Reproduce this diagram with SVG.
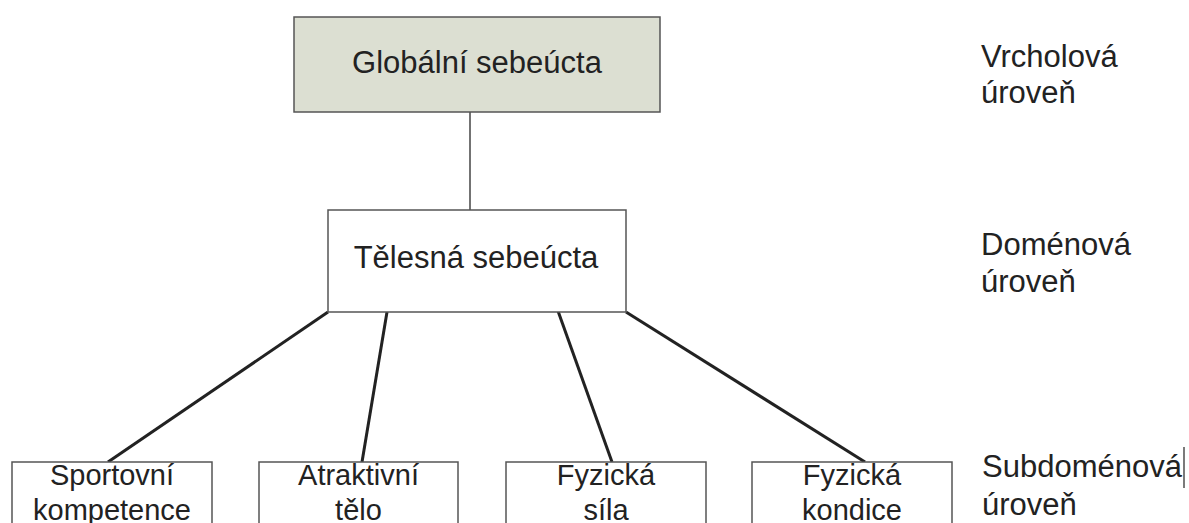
<svg xmlns="http://www.w3.org/2000/svg" width="1189" height="523" viewBox="0 0 1189 523">
<style>
text{font-family:"Liberation Sans",Arial,sans-serif;fill:#222}
.big{font-size:31px}
.small{font-size:29px;text-anchor:middle}
.mid{text-anchor:middle}
.box{fill:#fff;stroke:#555;stroke-width:1.5}
.edge{stroke:#222;stroke-width:3;fill:none}
</style>
<rect width="1189" height="523" fill="#fff"/>
<g id="connectors">
<line x1="470" y1="112" x2="470" y2="210" stroke="#444" stroke-width="1.5"/>
<line class="edge" x1="328" y1="312" x2="108" y2="462"/>
<line class="edge" x1="387" y1="312" x2="362" y2="462"/>
<line class="edge" x1="558" y1="311" x2="612" y2="462"/>
<line class="edge" x1="626" y1="312" x2="865" y2="462"/>
</g>
<g id="global">
<rect class="box" x="294" y="17" width="366" height="95" style="fill:#dcdfd2"/>
<text class="big mid" x="477" y="73">Globální sebeúcta</text>
</g>
<g id="telesna">
<rect class="box" x="328" y="210" width="298" height="102"/>
<text class="big mid" x="476" y="268">Tělesná sebeúcta</text>
</g>
<g id="sportovni">
<rect class="box" x="12" y="462" width="200" height="80"/>
<text class="small" x="112" y="485">Sportovní</text>
<text class="small" x="112" y="520">kompetence</text>
</g>
<g id="atraktivni">
<rect class="box" x="259" y="462" width="199" height="80"/>
<text class="small" x="358.5" y="485">Atraktivní</text>
<text class="small" x="358.5" y="520">tělo</text>
</g>
<g id="sila">
<rect class="box" x="506" y="462" width="200" height="80"/>
<text class="small" x="606" y="485">Fyzická</text>
<text class="small" x="606" y="520">síla</text>
</g>
<g id="kondice">
<rect class="box" x="752" y="462" width="200" height="80"/>
<text class="small" x="852" y="485">Fyzická</text>
<text class="small" x="852" y="520">kondice</text>
</g>
<g id="levels">
<text class="big" x="981" y="67">Vrcholová</text>
<text class="big" x="981" y="103">úroveň</text>
<text class="big" x="981" y="255">Doménová</text>
<text class="big" x="981" y="292">úroveň</text>
<text class="big" x="982" y="477">Subdoménová</text>
<text class="big" x="982" y="515">úroveň</text>
<line x1="1184" y1="447" x2="1184" y2="488" stroke="#222" stroke-width="1.2"/>
</g>
</svg>
